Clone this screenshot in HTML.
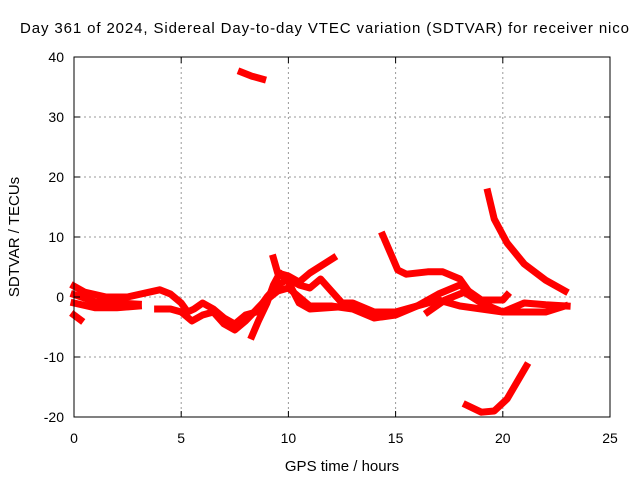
<!DOCTYPE html>
<html><head><meta charset="utf-8"><style>
body{margin:0;background:#fff}
svg{display:block;font-family:"Liberation Sans",sans-serif}
</style></head><body>
<svg id="chart" width="640" height="480">
<rect width="640" height="480" fill="#fff"/>
<text x="20" y="33" font-size="15" textLength="609" lengthAdjust="spacing">Day 361 of 2024, Sidereal Day-to-day VTEC variation (SDTVAR) for receiver nico</text>
<g id="grid"></g>
<g id="series"></g>
<rect x="74" y="57" width="536" height="360" fill="none" stroke="#000" stroke-width="1"/>
<g id="ticks"></g>
<text x="342" y="471" font-size="15" text-anchor="middle">GPS time / hours</text>
<text transform="translate(19,237) rotate(-90)" font-size="15" text-anchor="middle">SDTVAR / TECUs</text>
</svg>
<script>
const xTicks=[0,5,10,15,20,25];
const yTicks=[-20,-10,0,10,20,30,40];
const trackA=[[7.8,37.5],[8.3,36.8],[8.8,36.3]];
const trackB=[[19.3,17.5],[19.6,13],[20.2,9],[21,5.5],[22,2.8],[22.9,1]];
const trackC=[[18.3,-18],[19,-19.2],[19.6,-19],[20.2,-17],[21.1,-11.5]];
const trackD=[[14.4,10.3],[14.8,7],[15.1,4.5],[15.5,3.8],[16.5,4.2],[17.2,4.2],[18,3],[18.5,0.5]];
const trackE=[[0,1.8],[0.5,0.8],[1.5,0],[2.5,0],[3.5,0.8],[4,1.2],[4.5,0.5],[5,-1],[5.3,-2.5],[5.6,-2],[6,-1],[6.5,-2],[7,-3.5],[7.5,-4.5],[8,-3],[8.5,-2.5],[9,0],[9.5,2],[10,3],[10.5,2],[11,1.5],[11.5,3],[12,1],[12.5,-1],[13,-1],[14,-2.5],[15,-2.5],[16,-1.5],[17,0.5],[18,2],[18.6,0.5],[19,-0.5],[20,-0.5],[20.2,0.3]];
const trackF=[[0,-1],[1,-1.8],[2,-1.8],[3,-1.5]];
const trackG=[[0,-3],[0.3,-3.8]];
const trackH=[[3.9,-2],[4.5,-2],[5,-2.5],[5.5,-4],[6,-3],[6.5,-2.5],[7,-4.5],[7.5,-5.5],[8,-4],[8.8,-1],[9.5,1],[10,1.5],[11,-1.5],[12,-1.5],[13,-2],[14,-3.5],[15,-3],[16,-1.5],[17,-0.5],[18,-1.5],[19,-2],[20,-2.5],[21,-2.5],[22,-2.5],[22.9,-1.5]];
const trackI=[[8.3,-6.5],[8.6,-4],[9,-1],[9.3,2],[9.6,4],[10,2.5],[10.5,-1],[11,-2],[13,-1.5]];
const trackJ=[[9.3,6.5],[9.5,4],[10,3.5],[10.5,2.5],[11,4],[12.1,6.5]];
const trackK=[[16.5,-2.5],[17.3,-0.5],[18.2,0.8],[19,-1],[20,-2.5],[21,-1],[22,-1.3],[23,-1.5]];
const trackL=[[0,0.4],[1,-0.8],[3,-1.2]];
const tracks=[trackA,trackB,trackC,trackD,trackE,trackF,trackG,trackH,trackI,trackJ,trackK,trackL];
const NS="http://www.w3.org/2000/svg";
const X=t=>74+t*536/25, Y=v=>297-v*6;
const grid=document.getElementById('grid'),ticks=document.getElementById('ticks'),ser=document.getElementById('series');
function mk(tag,at,p){const e=document.createElementNS(NS,tag);for(const k in at)e.setAttribute(k,at[k]);p.appendChild(e);return e;}
xTicks.forEach(t=>{
 if(t>0&&t<25){const g=mk('line',{x1:X(t),x2:X(t),y1:57,y2:417,stroke:'#999','stroke-dasharray':'2,3'},grid);
 
 }
 mk('line',{x1:X(t),x2:X(t),y1:417,y2:411,stroke:'#000'},ticks);
 mk('line',{x1:X(t),x2:X(t),y1:57,y2:63,stroke:'#000'},ticks);
 const l=mk('text',{x:X(t),y:443,'font-size':14,'text-anchor':'middle'},ticks);l.textContent=t;
 
 
});
yTicks.forEach(v=>{
 if(v>-20&&v<40){const g=mk('line',{x1:74,x2:610,y1:Y(v),y2:Y(v),stroke:'#999','stroke-dasharray':'2,3'},grid);
 
 }
 mk('line',{x1:74,x2:80,y1:Y(v),y2:Y(v),stroke:'#000'},ticks);
 mk('line',{x1:604,x2:610,y1:Y(v),y2:Y(v),stroke:'#000'},ticks);
 const l=mk('text',{x:64,y:Y(v)+5,'font-size':14,'text-anchor':'end'},ticks);l.textContent=v;
 
 
});
tracks.forEach(tr=>{
 const p=mk('polyline',{points:tr.map(d=>X(d[0])+','+Y(d[1])).join(' '),fill:'none',stroke:'#f00','stroke-width':7,'stroke-linejoin':'round','stroke-linecap':'square'},ser);
 
 
});
</script>
</body></html>
